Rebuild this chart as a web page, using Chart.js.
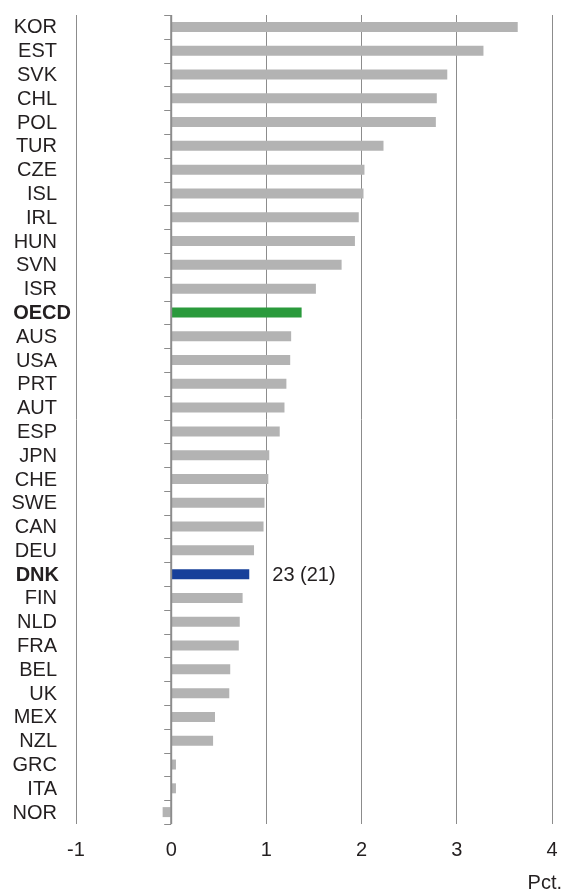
<!DOCTYPE html>
<html>
<head>
<meta charset="utf-8">
<script src="https://cdn.jsdelivr.net/npm/chart.js@4.4.0/dist/chart.umd.min.js"></script>
<style>
    html, body { margin: 0; padding: 0; background: #fff; overflow: hidden; }
    #wrap { width: 565px; height: 890px; position: relative; }
</style>
</head>
<body>
<div id="wrap"><canvas id="chart"></canvas></div>
<script>
const countries = ['KOR', 'EST', 'SVK', 'CHL', 'POL', 'TUR', 'CZE', 'ISL', 'IRL', 'HUN', 'SVN', 'ISR', 'OECD',
    'AUS', 'USA', 'PRT', 'AUT', 'ESP', 'JPN', 'CHE', 'SWE', 'CAN', 'DEU', 'DNK', 'FIN', 'NLD', 'FRA', 'BEL',
    'UK', 'MEX', 'NZL', 'GRC', 'ITA', 'NOR'];
const growth = [3.64, 3.28, 2.90, 2.79, 2.78, 2.23, 2.03, 2.02, 1.97, 1.93, 1.79, 1.52, 1.37,
    1.26, 1.25, 1.21, 1.19, 1.14, 1.03, 1.02, 0.98, 0.97, 0.87, 0.82, 0.75, 0.72, 0.71, 0.62,
    0.61, 0.46, 0.44, 0.05, 0.05, -0.09];
const xTicks = [-1, 0, 1, 2, 3, 4];
const boldCats = ['OECD', 'DNK'];
const dnkNote = '23 (21)';
const unitLabel = 'Pct.';

const GRID = '#8c8c8c';
const TEXT = '#231f20';
const FONT = 'Arial, "Liberation Sans", sans-serif';

const barColors = countries.map(c => c === 'OECD' ? '#2a9a3c' : c === 'DNK' ? '#17409a' : '#b3b3b3');

// category labels, zero line with small ticks, note text and unit
const extras = {
    id: 'extras',
    afterDatasetsDraw(chart) {
        const ctx = chart.ctx;
        const x = chart.scales.x, y = chart.scales.y;
        const x0 = x.getPixelForValue(0);
        ctx.save();
        ctx.strokeStyle = GRID;
        ctx.lineWidth = 2;
        ctx.beginPath();
        ctx.moveTo(x0, chart.chartArea.top);
        ctx.lineTo(x0, chart.chartArea.bottom);
        ctx.stroke();
        ctx.lineWidth = 1;
        for (let i = 0; i <= countries.length; i++) {
            const ty = Math.round(y.getPixelForValue(i - 0.5)) + 0.5;
            ctx.beginPath();
            ctx.moveTo(x0 - 7, ty);
            ctx.lineTo(x0, ty);
            ctx.stroke();
        }

        ctx.fillStyle = TEXT;
        ctx.textBaseline = 'middle';
        ctx.textAlign = 'right';
        const labelRight = chart.chartArea.left - 19;
        countries.forEach((c, i) => {
            const bold = boldCats.includes(c);
            ctx.font = (bold ? 'bold ' : '') + '20px ' + FONT;
            // the OECD label sits a bit further right in the original
            const shift = c === 'OECD' ? 14 : c === 'DNK' ? 2 : 0;
            ctx.fillText(c, labelRight + shift, y.getPixelForValue(i) + 1);
        });

        const di = countries.indexOf('DNK');
        ctx.font = '20px ' + FONT;
        ctx.textAlign = 'left';
        ctx.fillText(dnkNote, x.getPixelForValue(growth[di]) + 23, y.getPixelForValue(di) + 1);
        ctx.textAlign = 'right';
        ctx.textBaseline = 'alphabetic';
        ctx.fillText(unitLabel, chart.width - 3, chart.height - 1);
        ctx.restore();
    }
};

new Chart(document.getElementById('chart'), {
    type: 'bar',
    data: {
        labels: countries,
        datasets: [{
            data: growth,
            backgroundColor: barColors,
            barPercentage: 0.42,
            categoryPercentage: 1
        }]
    },
    options: {
        indexAxis: 'y',
        responsive: true,
        maintainAspectRatio: false,
        animation: false,
        layout: { padding: { top: 15, right: 13, left: 0, bottom: 0 } },
        plugins: { legend: { display: false }, tooltip: { enabled: false } },
        scales: {
            x: {
                min: -1,
                max: 4,
                afterBuildTicks: s => { s.ticks = xTicks.map(v => ({ value: v })); },
                afterFit: s => { s.height = 66; s.paddingLeft = 0; s.paddingRight = 0; },
                grid: { color: GRID, lineWidth: 1, drawTicks: false },
                border: { display: false },
                ticks: { color: TEXT, font: { size: 20, family: FONT }, padding: 14 }
            },
            y: {
                afterFit: s => { s.width = 76; s.paddingTop = 0; s.paddingBottom = 0; },
                grid: { display: false, drawTicks: false },
                border: { display: false },
                ticks: { display: false }
            }
        }
    },
    plugins: [extras]
});
</script>
</body>
</html>
